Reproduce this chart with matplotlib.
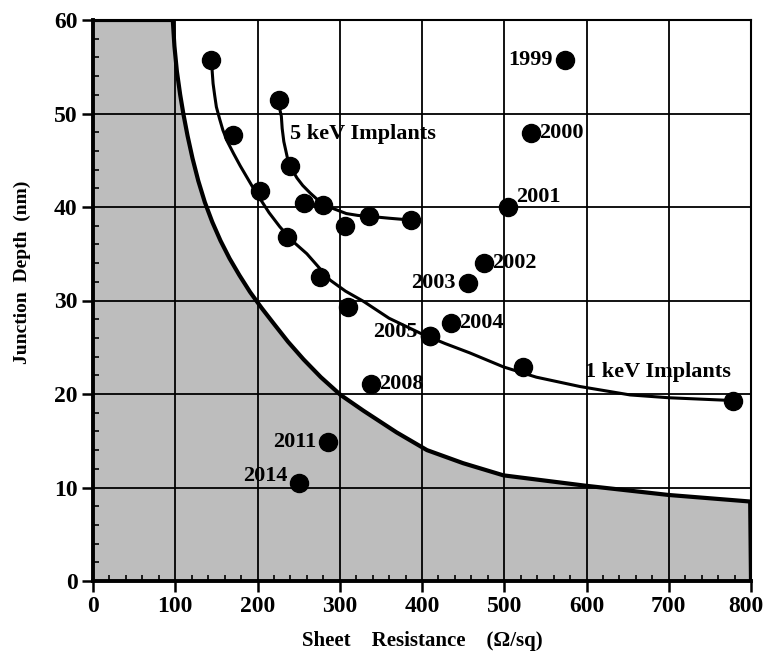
import numpy as np
import matplotlib
matplotlib.use('Agg')
import matplotlib.pyplot as plt
from matplotlib.ticker import MultipleLocator

# data points (sheet resistance ohm/sq, junction depth nm)
kev1_x = [144, 170, 203, 236, 276, 310, 410, 523, 778]
kev1_y = [55.7, 47.7, 41.7, 36.8, 32.5, 29.3, 26.2, 22.9, 19.3]
kev5_x = [226, 240, 256, 280, 306, 336, 387]
kev5_y = [51.4, 44.4, 40.4, 40.2, 38.0, 39.0, 38.6]

years = ['1999', '2000', '2001', '2002', '2003', '2004', '2005', '2008', '2011', '2014']
year_x = [574, 533, 504, 475, 456, 435, 410, 338, 286, 251]
year_y = [55.7, 47.9, 40.0, 34.0, 31.9, 27.6, 26.2, 21.1, 14.9, 10.5]
# which side the year label goes
year_side = ['left', 'right', 'right', 'right', 'left', 'right', 'left', 'right', 'left', 'left']
year_dy = [0, 0, 1.1, 0, 0, 0, 0.4, 0, 0, 0.7]

# fitted curves
fit1_x = [144, 145, 146, 148, 150, 154, 158, 164, 171, 179, 187, 195, 203, 214, 227, 242, 260, 274,
          288, 307, 329, 360, 398, 428, 458, 499, 539, 592, 653, 700, 778]
fit1_y = [55.7, 54.4, 53.2, 51.9, 50.7, 49.4, 48.2, 46.9, 45.7, 44.4, 43.2, 42.0, 40.9, 39.4, 37.9, 36.4,
          35.0, 33.6, 32.2, 31.0, 29.9, 28.1, 26.5, 25.4, 24.4, 22.9, 21.8, 20.8, 19.9, 19.6, 19.3]
fit5_x = [226, 227, 229, 230, 232, 237, 242, 248, 255, 264, 274, 284, 296, 308, 322, 336, 360, 387]
fit5_y = [51.4, 50.5, 49.7, 48.4, 47.0, 45.0, 44.0, 43.1, 42.3, 41.5, 40.7, 40.1, 39.7, 39.3, 39.1, 39.0, 38.8, 38.6]

# limit boundary (shaded region below)
bound_x = [0, 97, 99, 102, 106, 110, 115, 121, 128, 136, 145, 155, 166, 178, 191, 205, 220, 237,
           256, 277, 301, 329, 369, 406, 450, 499, 598, 700, 799, 800]
bound_y = [60, 60, 57.2, 54.5, 52.0, 49.9, 47.6, 45.2, 42.8, 40.5, 38.4, 36.4, 34.5, 32.7, 30.9, 29.2,
           27.5, 25.6, 23.7, 21.8, 19.9, 18.2, 15.9, 14.0, 12.6, 11.3, 10.2, 9.2, 8.5, 0]

x_ticks = [0, 100, 200, 300, 400, 500, 600, 700, 800]

plt.rcParams['font.family'] = ['Liberation Serif', 'DejaVu Serif']
plt.rcParams['font.weight'] = 'bold'

fig = plt.figure(figsize=(7.66, 6.54), dpi=100)
ax = fig.add_axes([93 / 766, 73 / 654, 658 / 766, 561 / 654])

ax.fill_between(bound_x, bound_y, 0, facecolor='#bdbdbd', linewidth=0, zorder=1)
ax.plot(bound_x, bound_y, color='black', lw=3.0, zorder=4, solid_joinstyle='round')

ax.plot(fit1_x, fit1_y, color='black', lw=2.2, zorder=4)
ax.plot(fit5_x, fit5_y, color='black', lw=2.2, zorder=4)

all_x = kev1_x + kev5_x + year_x
all_y = kev1_y + kev5_y + year_y
ax.plot(all_x, all_y, 'o', color='black', ms=13, zorder=5, linestyle='none')

for lab, x, y, side, dy in zip(years, year_x, year_y, year_side, year_dy):
    if side == 'left':
        ax.text(x - 15, y + dy, lab, ha='right', va='center', fontsize=16, fontweight='bold', zorder=6)
    else:
        ax.text(x + 10, y + dy, lab, ha='left', va='center', fontsize=16, fontweight='bold', zorder=6)

ax.text(240, 47.8, '5 keV Implants', ha='left', va='center', fontsize=16, fontweight='bold', zorder=6)
ax.text(598, 22.4, '1 keV Implants', ha='left', va='center', fontsize=16, fontweight='bold', zorder=6)

ax.set_xlim(0, 800)
ax.set_ylim(0, 60)
ax.set_xticks(x_ticks)
# the last label sits at the figure edge: draw it separately, nudged in a little
ax.set_xticklabels([str(v) for v in x_ticks[:-1]] + [''])
ax.annotate(str(x_ticks[-1]), xy=(x_ticks[-1], 0), xycoords='data', xytext=(-4, -11),
            textcoords='offset points', ha='center', va='top', fontsize=17, fontweight='bold',
            annotation_clip=False)
ax.xaxis.set_minor_locator(MultipleLocator(20))
ax.yaxis.set_major_locator(MultipleLocator(10))
ax.yaxis.set_minor_locator(MultipleLocator(2))
ax.tick_params(which='major', direction='out', length=8, width=1.8, labelsize=17, pad=3)
ax.tick_params(which='minor', direction='in', length=4, width=1.2)
for t in ax.get_xticklabels() + ax.get_yticklabels():
    t.set_fontweight('bold')

ax.grid(True, which='major', color='black', lw=1.3, zorder=3)
ax.set_axisbelow(False)
for side in ['left', 'bottom']:
    ax.spines[side].set_linewidth(2.8)
for side in ['top', 'right']:
    ax.spines[side].set_linewidth(1.5)
for s in ax.spines.values():
    s.set_zorder(6)

ax.set_xlabel('Sheet    Resistance    (\u03a9/sq)', fontsize=15, fontweight='bold', labelpad=10)
fig.text(22 / 766, 1 - 272 / 654, 'Junction  Depth  (nm)', rotation=90, ha='center', va='center',
         fontsize=14, fontweight='bold')

fig.savefig('out.png', dpi=100)
